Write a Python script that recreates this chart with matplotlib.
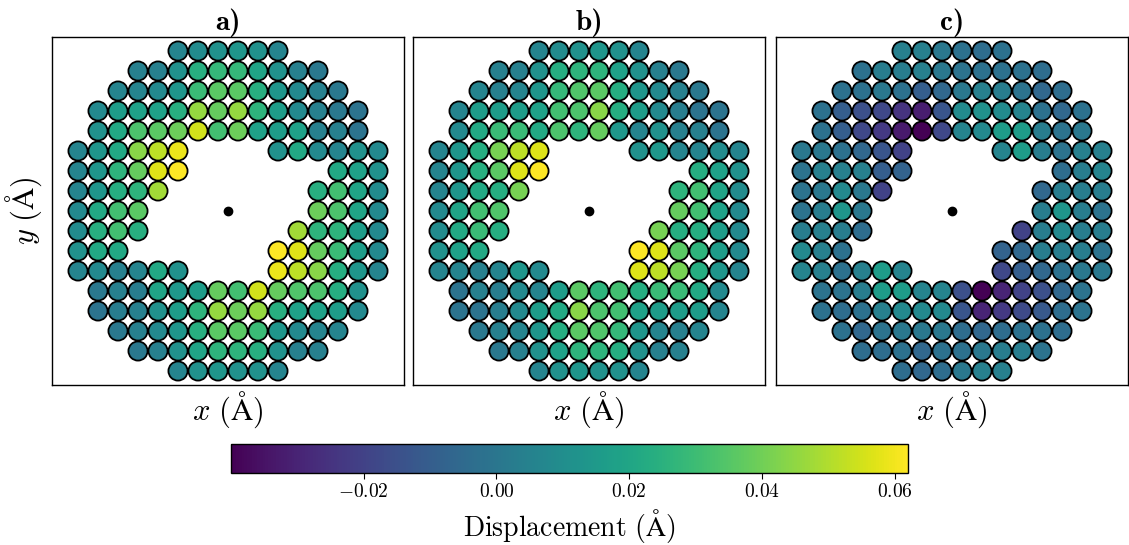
import numpy as np
import matplotlib
matplotlib.use("Agg")
import matplotlib.pyplot as plt

plt.rcParams['mathtext.fontset'] = 'cm'
plt.rcParams['font.family'] = 'serif'

# ---- lattice geometry: row y-positions (top -> bottom) and occupied column indices (x = col - 7.5)
row_y = [8, 7, 6, 5, 4, 3, 2, 1, 0, -1, -2, -3, -4, -5, -6, -7, -8]
row_cols = [
    list(range(5, 11)),
    list(range(3, 13)),
    list(range(2, 14)),
    list(range(1, 15)),
    list(range(1, 15)),
    list(range(0, 6)) + list(range(10, 16)),
    list(range(0, 6)) + list(range(13, 16)),
    list(range(0, 5)) + list(range(12, 16)),
    list(range(0, 4)) + list(range(12, 16)),
    list(range(0, 4)) + list(range(11, 16)),
    list(range(0, 3)) + list(range(10, 16)),
    list(range(0, 6)) + list(range(10, 16)),
    list(range(1, 15)),
    list(range(1, 15)),
    list(range(2, 14)),
    list(range(3, 13)),
    list(range(5, 11)),
]

# ---- displacement values (Angstrom), one list per row, top to bottom
disp_a = [
    [0.006, 0.009, 0.011, 0.013, 0.011, 0.006],
    [0.004, 0.004, 0.011, 0.024, 0.028, 0.028, 0.019, 0.011, 0.004, 0.001],
    [0.006, 0.006, 0.008, 0.013, 0.029, 0.036, 0.036, 0.024, 0.013, 0.008, 0.004, 0.001],
    [0.008, 0.016, 0.018, 0.018, 0.024, 0.046, 0.038, 0.046, 0.026, 0.016, 0.008, 0.004, 0.001, -0.001],
    [0.011, 0.021, 0.033, 0.036, 0.039, 0.055, 0.031, 0.039, 0.018, 0.016, 0.018, 0.004, 0.004, -0.001],
    [0.006, 0.013, 0.021, 0.044, 0.052, 0.059, 0.011, 0.021, 0.008, 0.006, 0.011, 0.008],
    [0.006, 0.013, 0.026, 0.038, 0.057, 0.062, 0.021, 0.018, 0.011],
    [0.006, 0.013, 0.023, 0.026, 0.048, 0.024, 0.031, 0.019, 0.009],
    [0.008, 0.021, 0.031, 0.036, 0.039, 0.033, 0.019, 0.008],
    [0.009, 0.024, 0.031, 0.024, 0.048, 0.026, 0.026, 0.016, 0.008],
    [0.011, 0.021, 0.021, 0.062, 0.057, 0.038, 0.029, 0.016, 0.008],
    [0.006, 0.008, 0.004, 0.006, 0.021, 0.011, 0.059, 0.052, 0.044, 0.023, 0.013, 0.006],
    [0.001, 0.004, 0.003, 0.019, 0.014, 0.016, 0.038, 0.031, 0.055, 0.038, 0.034, 0.033, 0.023, 0.011],
    [-0.001, 0.003, 0.004, 0.011, 0.016, 0.026, 0.046, 0.039, 0.046, 0.024, 0.018, 0.018, 0.016, 0.008],
    [0.001, 0.004, 0.008, 0.013, 0.024, 0.036, 0.036, 0.029, 0.013, 0.008, 0.006, 0.006],
    [0.001, 0.004, 0.011, 0.019, 0.026, 0.026, 0.024, 0.011, 0.004, 0.004],
    [0.006, 0.011, 0.013, 0.011, 0.011, 0.006],
]

disp_b = [
    [0.006, 0.009, 0.011, 0.013, 0.011, 0.006],
    [0.004, 0.004, 0.011, 0.023, 0.026, 0.026, 0.018, 0.011, 0.004, 0.001],
    [0.006, 0.004, 0.006, 0.013, 0.028, 0.034, 0.036, 0.023, 0.013, 0.008, 0.004, 0.001],
    [0.006, 0.016, 0.016, 0.016, 0.018, 0.031, 0.033, 0.044, 0.023, 0.016, 0.008, 0.003, -0.001, -0.001],
    [0.008, 0.021, 0.029, 0.029, 0.021, 0.033, 0.026, 0.038, 0.014, 0.006, 0.011, 0.004, 0.004, -0.001],
    [0.006, 0.013, 0.023, 0.041, 0.052, 0.057, 0.011, 0.014, 0.006, 0.006, 0.009, 0.006],
    [0.006, 0.013, 0.024, 0.036, 0.057, 0.062, 0.023, 0.018, 0.011],
    [0.006, 0.013, 0.021, 0.023, 0.041, 0.026, 0.031, 0.019, 0.009],
    [0.008, 0.019, 0.031, 0.034, 0.038, 0.031, 0.018, 0.008],
    [0.009, 0.021, 0.029, 0.023, 0.041, 0.023, 0.023, 0.016, 0.008],
    [0.011, 0.018, 0.021, 0.062, 0.057, 0.036, 0.026, 0.016, 0.008],
    [0.006, 0.006, 0.004, 0.006, 0.013, 0.008, 0.057, 0.052, 0.041, 0.023, 0.013, 0.006],
    [-0.001, 0.004, 0.003, 0.008, 0.006, 0.016, 0.036, 0.026, 0.031, 0.023, 0.029, 0.029, 0.021, 0.008],
    [-0.001, -0.001, 0.003, 0.008, 0.016, 0.021, 0.044, 0.033, 0.031, 0.018, 0.016, 0.016, 0.016, 0.006],
    [0.001, 0.004, 0.006, 0.013, 0.023, 0.036, 0.034, 0.028, 0.013, 0.006, 0.004, 0.006],
    [0.001, 0.004, 0.011, 0.018, 0.026, 0.026, 0.023, 0.011, 0.004, 0.004],
    [0.006, 0.011, 0.013, 0.011, 0.011, 0.006],
]

disp_c = [
    [0.004, 0.004, 0.001, -0.002, -0.004, -0.002],
    [-0.002, 0.003, 0.003, 0.004, 0.001, -0.001, -0.002, -0.002, -0.002, -0.004],
    [-0.002, -0.002, 0.001, -0.002, -0.010, -0.006, 0.001, 0.004, 0.003, -0.001, -0.006, -0.004],
    [-0.002, -0.010, -0.015, -0.018, -0.025, -0.032, -0.013, 0.009, 0.011, 0.009, 0.006, -0.002, -0.006, -0.002],
    [-0.002, -0.010, -0.018, -0.023, -0.033, -0.040, -0.018, 0.006, 0.008, 0.016, 0.016, 0.003, -0.001, 0.001],
    [0.001, 0.001, -0.002, -0.006, -0.013, -0.020, 0.006, 0.016, 0.003, -0.001, 0.004, 0.004],
    [-0.001, 0.004, 0.004, 0.004, -0.010, -0.008, -0.004, 0.003, 0.006],
    [-0.001, 0.001, 0.008, 0.001, -0.020, -0.006, 0.003, 0.003, 0.003],
    [-0.001, 0.003, 0.013, 0.001, 0.003, 0.013, 0.003, -0.001],
    [0.003, 0.004, 0.003, -0.004, -0.020, 0.003, 0.008, 0.003, 0.003],
    [0.008, 0.004, -0.002, -0.008, -0.006, 0.003, 0.003, 0.003, -0.001],
    [0.006, 0.004, -0.002, 0.004, 0.016, 0.006, -0.018, -0.010, -0.006, -0.002, 0.001, 0.001],
    [-0.001, -0.001, 0.003, 0.016, 0.016, 0.006, 0.006, -0.015, -0.040, -0.030, -0.020, -0.015, -0.006, -0.001],
    [-0.002, -0.004, -0.002, 0.004, 0.008, 0.008, 0.008, -0.013, -0.030, -0.023, -0.017, -0.012, -0.004, -0.001],
    [-0.002, -0.006, -0.001, 0.001, 0.001, 0.001, -0.004, -0.006, -0.004, -0.002, -0.002, -0.004],
    [-0.004, -0.004, -0.002, -0.006, -0.002, -0.002, 0.001, 0.003, 0.003, -0.001],
    [-0.004, -0.006, -0.004, 0.001, 0.004, 0.004],
]

panel_titles = ['a)', 'b)', 'c)']
cbar_ticks = [-0.02, 0.00, 0.02, 0.04, 0.06]
cbar_ticklabels = ['$-0.02$', '$0.00$', '$0.02$', '$0.04$', '$0.06$']

# ---- build coordinates
xs, ys = [], []
for yv, cols in zip(row_y, row_cols):
    for c in cols:
        xs.append(c - 7.5)
        ys.append(yv)
xs = np.array(xs, dtype=float)
ys = np.array(ys, dtype=float)

panels = [np.concatenate([np.array(r) for r in d]) for d in (disp_a, disp_b, disp_c)]
vmin = min(p.min() for p in panels)
vmax = max(p.max() for p in panels)

W, H = 1129, 545
fig = plt.figure(figsize=(W / 100, H / 100), dpi=100)

lefts = [52, 413, 776]
ax_w, ax_h = 352, 348
bottom_px = 385
sc = None
for i, (vals, left) in enumerate(zip(panels, lefts)):
    ax = fig.add_axes([left / W, (H - bottom_px) / H, ax_w / W, ax_h / H])
    sc = ax.scatter(xs, ys, c=vals, cmap='viridis', vmin=vmin, vmax=vmax,
                    s=190, edgecolors='black', linewidths=1.3, zorder=2)
    ax.scatter([0], [0], s=36, color='black', zorder=3)
    ax.set_xlim(-8.8, 8.8)
    ax.set_ylim(-8.7, 8.7)
    ax.set_xticks([])
    ax.set_yticks([])
    for sp in ax.spines.values():
        sp.set_linewidth(1.0)
    ax.set_title(panel_titles[i], fontsize=21, pad=4, fontfamily='cmb10')
    ax.set_xlabel(r'$x\ (\mathrm{\AA})$', fontsize=22, labelpad=3)
    if i == 0:
        ax.set_ylabel(r'$y\ (\mathrm{\AA})$', fontsize=22, labelpad=6)

cax = fig.add_axes([231 / W, (H - 473) / H, 677 / W, 29 / H])
cb = fig.colorbar(sc, cax=cax, orientation='horizontal')
cb.set_ticks(cbar_ticks)
cb.set_ticklabels(cbar_ticklabels)
cb.ax.tick_params(labelsize=14, length=4)
cb.outline.set_linewidth(1.0)
cb.set_label(r'$\mathrm{Displacement\ (\AA)}$', fontsize=20, labelpad=4)

fig.savefig('out.png', dpi=100)
